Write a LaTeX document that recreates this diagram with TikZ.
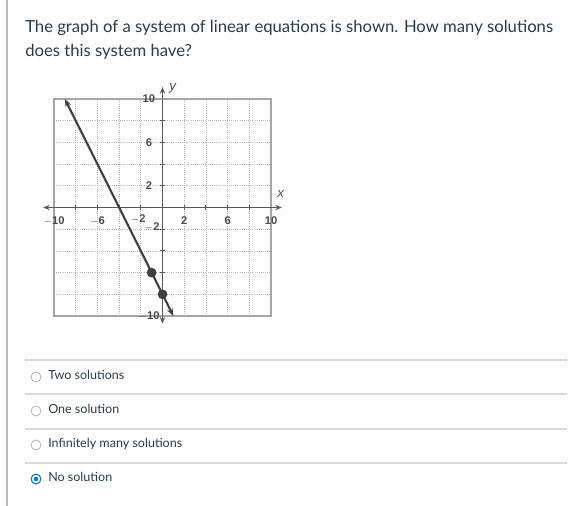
\documentclass[tikz,border=0pt]{standalone}
\usepackage{fontspec}
\setmainfont{Lato}
\newfontfamily\graphfont{Liberation Sans}
\usetikzlibrary{arrows.meta}
\definecolor{ink}{HTML}{2D3B45}
\definecolor{rule}{HTML}{D5DADD}
\definecolor{pick}{HTML}{0B74DE}
\begin{document}
\begin{tikzpicture}[x=0.75pt,y=-0.75pt]
	\tikzstyle{question}=[anchor=base west,inner sep=0pt,text=ink,font=\fontsize{12.5}{15}\selectfont]
	\tikzstyle{answer}=[anchor=base west,inner sep=0pt,text=ink,font=\fontsize{9.4}{12}\selectfont]
	\tikzstyle{radio}=[circle,draw=gray!70,line width=0.5pt,minimum size=7.5pt,inner sep=0pt,fill=white]
	\tikzstyle{picked}=[radio,draw=pick,line width=0.9pt,fill=pick,double=white,double distance=1.2pt,minimum size=5pt]
	\tikzstyle{sep}=[rule,line width=0.8pt]
	\tikzstyle{tick}=[font=\graphfont\bfseries\fontsize{8.4}{9}\selectfont,text=black!70,inner sep=1pt]
	\tikzstyle{gridline}=[gray!55,line width=0.6pt,densely dotted]
	\tikzstyle{axis}=[black!65,line width=0.9pt,-{Stealth[length=5pt,width=4pt]}]
	\tikzstyle{graphline}=[black!75,line width=1.6pt,{Stealth[length=6pt,width=4.5pt]}-{Stealth[length=6pt,width=4.5pt]}]
	\useasboundingbox (0,0) rectangle (569,506);
	\draw [gray!55,line width=0.8pt] (7,0) -- (7,506);
	\node (q1) at (25,33) [question] {The graph of a system of linear equations is shown. How many solutions};
	\node (q2) at (25,57) [question] {does this system have?};
	\begin{scope}[shift={(162.5,207.5)},x=8.14pt,y=8.14pt]
		\foreach \g in {-8,-6,...,8} {
			\draw [gridline] (\g,-10) -- (\g,10);
			\draw [gridline] (-10,\g) -- (10,\g);
		}
		\draw [gray!70,line width=0.9pt] (-10,-10) rectangle (10,10);
		\draw [axis] (0,0) -- (11,0);
		\draw [axis] (0,0) -- (-11,0);
		\draw [axis] (0,0) -- (0,11.1);
		\draw [axis] (0,0) -- (0,-10.7);
		\foreach \g in {-8,-6,...,8} {
			\draw [black!65,line width=0.7pt] (\g,-0.2) -- (\g,0.2);
			\draw [black!65,line width=0.7pt] (-0.2,\g) -- (0.2,\g);
		}
		\foreach \g/\t in {-10/$-$10,-6/$-$6,2/2,6/6,10/10}
			\node (x\g) at (\g,-1.25) [tick] {\t};
		\node (x-2) at (-2.25,-1.1) [tick] {$-$2};
		\foreach \g/\t in {10/10,6/6,2/2,-10/$-$10}
			\node (y\g) at (-1.25,\g) [tick] {\t};
		\node (y-2) at (-0.95,-1.85) [tick] {$-$2};
		\node (xlab) at (10.9,1.2) [tick,font=\graphfont\itshape\fontsize{10}{11}\selectfont] {x};
		\node (ylab) at (0.95,11.0) [tick,font=\graphfont\itshape\fontsize{10}{11}\selectfont] {y};
		\coordinate (top) at (-9,10);
		\coordinate (bot) at (1,-10);
		\draw [graphline] (top) -- (bot);
		\fill [black!75] (-1,-6) circle (0.45) (0,-8) circle (0.45);
	\end{scope}
	\foreach \y in {360,394,429,463}
		\draw [sep] (25,\y) -- (567,\y);
	\node (r1) at (36,377) [radio] {};
	\node (r2) at (36,411) [radio] {};
	\node (r3) at (36,445) [radio] {};
	\node (r4) at (36,479) [picked] {};
	\node (a1) at (48,380) [answer] {Two solutions};
	\node (a2) at (48,414) [answer] {One solution};
	\node (a3) at (48,448) [answer] {Infinitely many solutions};
	\node (a4) at (48,482) [answer] {No solution};
\end{tikzpicture}
\end{document}
